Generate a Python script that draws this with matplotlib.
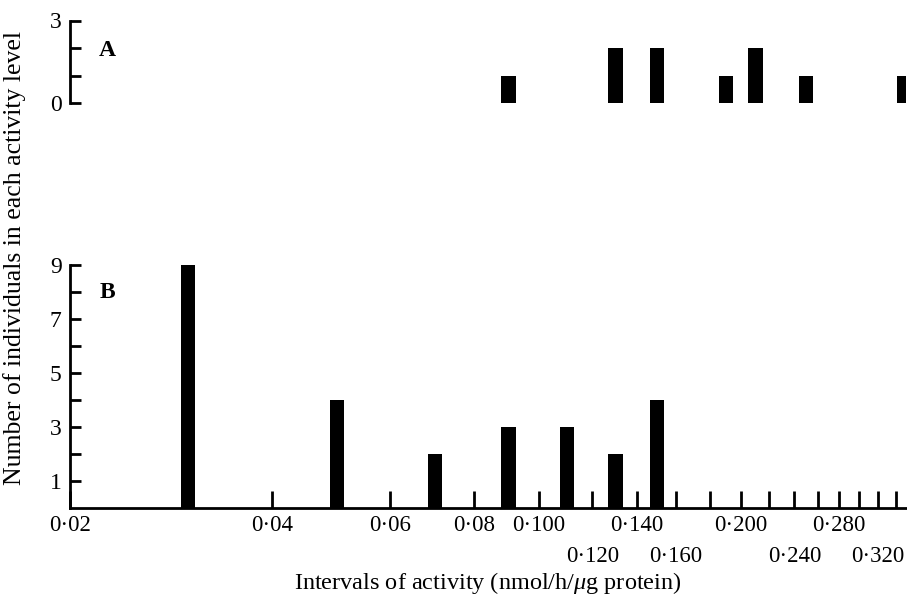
import numpy as np
import matplotlib
matplotlib.use("Agg")
import matplotlib.pyplot as plt
from matplotlib.ticker import FixedLocator, FixedFormatter, NullLocator

plt.rcParams['font.family'] = ['Liberation Serif', 'DejaVu Serif']
plt.rcParams['mathtext.fontset'] = 'custom'
plt.rcParams['mathtext.rm'] = 'Liberation Serif'
plt.rcParams['mathtext.it'] = 'Liberation Serif:italic'

# ---- data ----
a_mid = [0.09, 0.13, 0.15, 0.19, 0.21, 0.25, 0.35]
a_counts = [1, 2, 2, 1, 2, 1, 1]
b_mid = [0.03, 0.05, 0.07, 0.09, 0.11, 0.13, 0.15]
b_counts = [9, 4, 2, 3, 3, 2, 4]
x_ticks = [0.02, 0.04, 0.06, 0.08, 0.10, 0.12, 0.14, 0.16, 0.18, 0.20,
           0.22, 0.24, 0.26, 0.28, 0.30, 0.32, 0.34]
x_ticklabels = ['0·02', '0·04', '0·06', '0·08', '0·100', '', '0·140',
                '', '', '0·200', '', '', '', '0·280', '', '', '']
x_ticks_row2 = [0.12, 0.16, 0.24, 0.32]
x_ticklabels_row2 = ['0·120', '0·160', '0·240', '0·320']
a_yticks = [0, 1, 2, 3]
a_yticklabels = ['0', '', '', '3']
b_yticks = [1, 2, 3, 4, 5, 6, 7, 8, 9]
b_yticklabels = ['1', '', '3', '', '5', '', '7', '', '9']

W, H = 907, 601
fig = plt.figure(figsize=(W / 100, H / 100), dpi=100)
left_px, right_px = 70, 906
axA = fig.add_axes([left_px / W, 1 - 103 / H, (right_px - left_px) / W, 82.5 / H])
axB = fig.add_axes([left_px / W, 1 - 508 / H, (right_px - left_px) / W, 243 / H])

xmin, xmax = 0.02, 0.352
hw = 0.0245  # half bar width in log units


def draw_bars(ax, mids, counts):
    mids = np.asarray(mids, dtype=float)
    lefts = mids * np.exp(-hw)
    widths = mids * np.exp(hw) - lefts
    ax.bar(lefts, counts, width=widths, align='edge', color='black',
           edgecolor='black', linewidth=0)


for ax in (axA, axB):
    ax.set_xscale('log')
    ax.set_xlim(xmin, xmax)
    ax.spines['top'].set_visible(False)
    ax.spines['right'].set_visible(False)
    ax.spines['left'].set_linewidth(2)
    ax.spines['bottom'].set_linewidth(2)
    ax.xaxis.set_minor_locator(NullLocator())
    ax.tick_params(axis='y', direction='in', length=8, width=2, pad=6,
                   labelsize=17)

# Panel A
draw_bars(axA, a_mid, a_counts)
axA.set_ylim(0, 3)
axA.spines['bottom'].set_visible(False)
axA.set_yticks(a_yticks)
axA.set_yticklabels(a_yticklabels)
axA.xaxis.set_major_locator(NullLocator())
axA.patch.set_alpha(0)

# Panel B
draw_bars(axB, b_mid, b_counts)
axB.set_ylim(0, 9)
axB.set_yticks(b_yticks)
axB.set_yticklabels(b_yticklabels)
axB.xaxis.remove_overlapping_locs = False
axB.xaxis.set_major_locator(FixedLocator(x_ticks))
axB.xaxis.set_major_formatter(FixedFormatter(x_ticklabels))
axB.xaxis.set_minor_locator(FixedLocator(x_ticks_row2))
axB.xaxis.set_minor_formatter(FixedFormatter(x_ticklabels_row2))
axB.tick_params(axis='x', which='major', direction='in', length=12, width=2,
                pad=5, labelsize=16.5)
axB.tick_params(axis='x', which='minor', direction='in', length=0, width=0,
                pad=27, labelsize=16.5)

fig.text(107 / W, 1 - 51 / H, 'A', fontsize=17, fontweight='bold',
         ha='center', va='center')
fig.text(107 / W, 1 - 293 / H, 'B', fontsize=17, fontweight='bold',
         ha='center', va='center')

fig.text(15 / W, 1 - 258 / H, 'Number of individuals in each activity level',
         rotation=90, ha='center', va='center', fontsize=18.5)
fig.text(488 / W, 1 - 583 / H, r'Intervals of activity (nmol/h/$\mu$g protein)',
         ha='center', va='center', fontsize=17.5)

fig.savefig('out.png', dpi=100)
